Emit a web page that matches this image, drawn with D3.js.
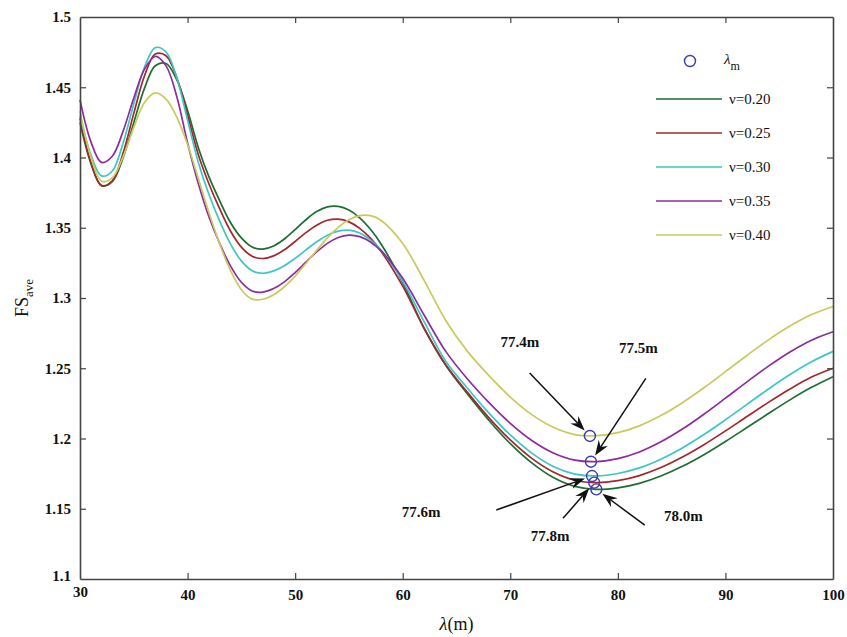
<!DOCTYPE html>
<html>
<head>
<meta charset="utf-8">
<script src="https://cdn.jsdelivr.net/npm/d3@7"></script>
<style>
body { margin: 0; background: #fff; }
text { font-family: "Liberation Serif", "Times New Roman", serif; fill: #111; }
</style>
</head>
<body>
<svg id="chart" width="847" height="637"></svg>
<script>
// λ (m) grid the curves are sampled on
const lambdaGrid = [30, 31, 32, 33, 34, 35, 36, 37, 38, 39, 40, 41, 42, 43, 44, 45, 46, 47, 48, 49, 50, 51, 52, 53, 54, 55, 56, 57, 58,
    60, 62, 64, 66, 68, 70, 72, 74, 76, 78, 80, 82, 84, 86, 88, 90, 92, 94, 96, 98, 100];

// FS_ave for each Poisson ratio
const fsNu020 = [1.425, 1.396, 1.380, 1.3828, 1.3997, 1.4248, 1.4494, 1.4653, 1.4669, 1.4553, 1.4335, 1.4070, 1.3860, 1.3690, 1.3536, 1.3428, 1.3363, 1.3348, 1.3370, 1.3420, 1.3487, 1.3557, 1.3615, 1.3649, 1.3652, 1.3626, 1.3571, 1.3489, 1.3383,
    1.3110, 1.2783, 1.2521, 1.2318, 1.2130, 1.1963, 1.1826, 1.1722, 1.1659, 1.1638, 1.1649, 1.1681, 1.1733, 1.1802, 1.1885, 1.1979, 1.2078, 1.2178, 1.2275, 1.2364, 1.2440];
const fsNu025 = [1.428, 1.397, 1.380, 1.3834, 1.4030, 1.4314, 1.4582, 1.4736, 1.4724, 1.4568, 1.4300, 1.4020, 1.3810, 1.3632, 1.3475, 1.3362, 1.3297, 1.3281, 1.3300, 1.3343, 1.3402, 1.3465, 1.3518, 1.3553, 1.3561, 1.3542, 1.3496, 1.3426, 1.3331,
    1.3084, 1.2783, 1.2525, 1.2330, 1.2149, 1.1990, 1.1859, 1.1762, 1.1703, 1.1686, 1.1700, 1.1736, 1.1793, 1.1868, 1.1956, 1.2054, 1.2156, 1.2257, 1.2352, 1.2437, 1.2500];
const fsNu030 = [1.430, 1.4022, 1.3869, 1.3904, 1.4101, 1.4383, 1.4644, 1.4782, 1.4751, 1.4566, 1.4266, 1.3965, 1.3735, 1.3545, 1.3383, 1.3264, 1.3194, 1.3176, 1.3193, 1.3230, 1.3282, 1.3342, 1.3400, 1.3447, 1.3476, 1.3483, 1.3463, 1.3414, 1.3339,
    1.3118, 1.2830, 1.2550, 1.2360, 1.2182, 1.2025, 1.1896, 1.1801, 1.1747, 1.1734, 1.1751, 1.1791, 1.1853, 1.1933, 1.2028, 1.2133, 1.2243, 1.2352, 1.2455, 1.2546, 1.2620];
const fsNu035 = [1.441, 1.4115, 1.3965, 1.4009, 1.4186, 1.4424, 1.4629, 1.4719, 1.4652, 1.4433, 1.4103, 1.3815, 1.3575, 1.3386, 1.3227, 1.3112, 1.3050, 1.3042, 1.3067, 1.3115, 1.3181, 1.3255, 1.3328, 1.3389, 1.3431, 1.3448, 1.3437, 1.3399, 1.3335,
    1.3140, 1.2877, 1.2620, 1.2425, 1.2257, 1.2108, 1.1986, 1.1897, 1.1846, 1.1836, 1.1857, 1.1904, 1.1976, 1.2067, 1.2173, 1.2287, 1.2403, 1.2515, 1.2616, 1.2700, 1.2760];
const fsNu040 = [1.433, 1.4008, 1.3831, 1.3855, 1.4005, 1.4214, 1.4392, 1.4460, 1.4416, 1.4288, 1.4092, 1.3851, 1.3605, 1.3382, 1.3194, 1.3059, 1.2992, 1.2991, 1.3023, 1.3080, 1.3156, 1.3246, 1.3339, 1.3428, 1.3503, 1.3557, 1.3586, 1.3586, 1.3552,
    1.3388, 1.3124, 1.2840, 1.2622, 1.2449, 1.2295, 1.2170, 1.2080, 1.2028, 1.2020, 1.2042, 1.2090, 1.2163, 1.2255, 1.2361, 1.2476, 1.2591, 1.2702, 1.2800, 1.2882, 1.2940];

const nuLabels = ["ν=0.20", "ν=0.25", "ν=0.30", "ν=0.35", "ν=0.40"];
const nuColors = ["#1f6e31", "#a3272c", "#3cc6c6", "#8e2b9e", "#c9c95e"];

// critical wavelength λm and its FS_ave for each ν
const lambdaM = [78.0, 77.8, 77.6, 77.5, 77.4];
const lambdaMFs = [1.1638, 1.1686, 1.1733, 1.1835, 1.2018];

// annotation arrows: tail point and text anchor (data units)
const annLabels = ["78.0m", "77.8m", "77.6m", "77.5m", "77.4m"];
const annTailX = [82.5, 74.9, 68.7, 82.6, 71.8];
const annTailY = [1.1384, 1.1432, 1.1491, 1.2428, 1.2466];
const annTextX = [86.1, 73.7, 61.7, 81.9, 70.9];
const annTextY = [1.141, 1.127, 1.144, 1.261, 1.265];

const xTicks = [30, 40, 50, 60, 70, 80, 90, 100];
const yTicks = [1.1, 1.15, 1.2, 1.25, 1.3, 1.35, 1.4, 1.45, 1.5];

const series = [fsNu020, fsNu025, fsNu030, fsNu035, fsNu040];

const svg = d3.select("#chart");
const margin = {top: 17, right: 14, bottom: 58, left: 80};
const W = 847, H = 637;
const x = d3.scaleLinear().domain([30, 100]).range([margin.left, W - margin.right]);
const y = d3.scaleLinear().domain([1.1, 1.5]).range([H - margin.bottom, margin.top]);

const line = d3.line()
    .x(d => x(d[0]))
    .y(d => y(d[1]))
    .curve(d3.curveCatmullRom.alpha(0.5));

// curves
series.forEach((vals, i) => {
    svg.append("path")
        .datum(lambdaGrid.map((l, j) => [l, vals[j]]))
        .attr("fill", "none")
        .attr("stroke", nuColors[i])
        .attr("stroke-width", 1.7)
        .attr("d", line);
});

// frame and axes
const fmt = d => String(+d.toFixed(2));
const axisColor = "#444";
const gB = svg.append("g").attr("transform", `translate(0,${y(1.1)})`)
    .call(d3.axisBottom(x).tickValues(xTicks).tickSizeInner(-6).tickSizeOuter(0).tickPadding(10));
const gT = svg.append("g").attr("transform", `translate(0,${y(1.5)})`)
    .call(d3.axisTop(x).tickValues(xTicks).tickSizeInner(-6).tickSizeOuter(0).tickFormat(""));
const gL = svg.append("g").attr("transform", `translate(${x(30)},0)`)
    .call(d3.axisLeft(y).tickValues(yTicks).tickFormat(fmt).tickSizeInner(-6).tickSizeOuter(0).tickPadding(9));
const gR = svg.append("g").attr("transform", `translate(${x(100)},0)`)
    .call(d3.axisRight(y).tickValues(yTicks).tickSizeInner(-6).tickSizeOuter(0).tickFormat(""));
[gB, gT, gL, gR].forEach(g => {
    g.select(".domain").attr("stroke", axisColor).attr("stroke-width", 1.6);
    g.selectAll(".tick line").attr("stroke", axisColor).attr("stroke-width", 1.2);
    g.selectAll(".tick text").attr("fill", "#111").style("font-size", "15px")
        .style("font-family", '"Liberation Serif", serif').style("font-weight", "bold");
});
// drop end ticks that overlap the frame
gT.selectAll(".tick").filter(d => d === 30 || d === 100).select("line").remove();
gB.selectAll(".tick").filter(d => d === 30 || d === 100).select("line").remove();
gL.selectAll(".tick").filter(d => d === 1.1 || d === 1.5).select("line").remove();
gR.selectAll(".tick").filter(d => d === 1.1 || d === 1.5).select("line").remove();
gL.selectAll(".tick").filter(d => d === 1.1).select("text").attr("dy", "0.1em");
gB.selectAll(".tick").filter(d => d === 30).select("text").attr("dy", "0.55em");

// axis titles
const xt = svg.append("text").attr("x", (x(30) + x(100)) / 2).attr("y", 630)
    .attr("text-anchor", "middle").style("font-size", "18px");
xt.append("tspan").style("font-style", "italic").text("λ");
xt.append("tspan").text("(m)");

const yt = svg.append("text").attr("transform", `translate(28,${(y(1.1) + y(1.5)) / 2}) rotate(-90)`)
    .attr("text-anchor", "middle").style("font-size", "18px");
yt.append("tspan").text("FS");
yt.append("tspan").attr("dy", 5).style("font-size", "13px").text("ave");

// λm markers
lambdaM.forEach((l, i) => {
    svg.append("circle")
        .attr("cx", x(l)).attr("cy", y(lambdaMFs[i])).attr("r", 5.5)
        .attr("fill", "none").attr("stroke", "#3b3bb0").attr("stroke-width", 1.4);
});

// annotation arrows
annLabels.forEach((lab, i) => {
    const tx = x(annTailX[i]), ty = y(annTailY[i]);
    const cx = x(lambdaM[i]), cy = y(lambdaMFs[i]);
    const dx = cx - tx, dy = cy - ty, len = Math.hypot(dx, dy);
    const ux = dx / len, uy = dy / len;
    const hx = cx - ux * 7.5, hy = cy - uy * 7.5;
    const headLen = 15, headW = 5.5, notch = 10;
    svg.append("line")
        .attr("x1", tx).attr("y1", ty)
        .attr("x2", hx - ux * notch).attr("y2", hy - uy * notch)
        .attr("stroke", "#111").attr("stroke-width", 1.5);
    const bx = hx - ux * headLen, by = hy - uy * headLen;
    const nx = hx - ux * notch, ny = hy - uy * notch;
    const pts = [[hx, hy], [bx - uy * headW, by + ux * headW], [nx, ny], [bx + uy * headW, by - ux * headW]];
    svg.append("path").attr("d", "M" + pts.map(p => p.join(",")).join("L") + "Z").attr("fill", "#111");
    svg.append("text").attr("x", x(annTextX[i])).attr("y", y(annTextY[i]))
        .attr("text-anchor", "middle").style("font-size", "15px").style("font-weight", "bold").text(lab);
});

// legend
const legend = svg.append("g");
legend.append("circle").attr("cx", 690).attr("cy", 61).attr("r", 5.5)
    .attr("fill", "none").attr("stroke", "#3b3bb0").attr("stroke-width", 1.4);
const lt = legend.append("text").attr("x", 724).attr("y", 64).style("font-size", "15px");
lt.append("tspan").style("font-style", "italic").text("λ");
lt.append("tspan").attr("dy", 6).style("font-size", "12px").text("m");
nuLabels.forEach((lab, i) => {
    const ly = 99 + i * 34;
    legend.append("line").attr("x1", 656).attr("x2", 722).attr("y1", ly).attr("y2", ly)
        .attr("stroke", nuColors[i]).attr("stroke-width", 1.7);
    legend.append("text").attr("x", 729).attr("y", ly + 5).style("font-size", "15px").text(lab);
});
</script>
</body>
</html>
